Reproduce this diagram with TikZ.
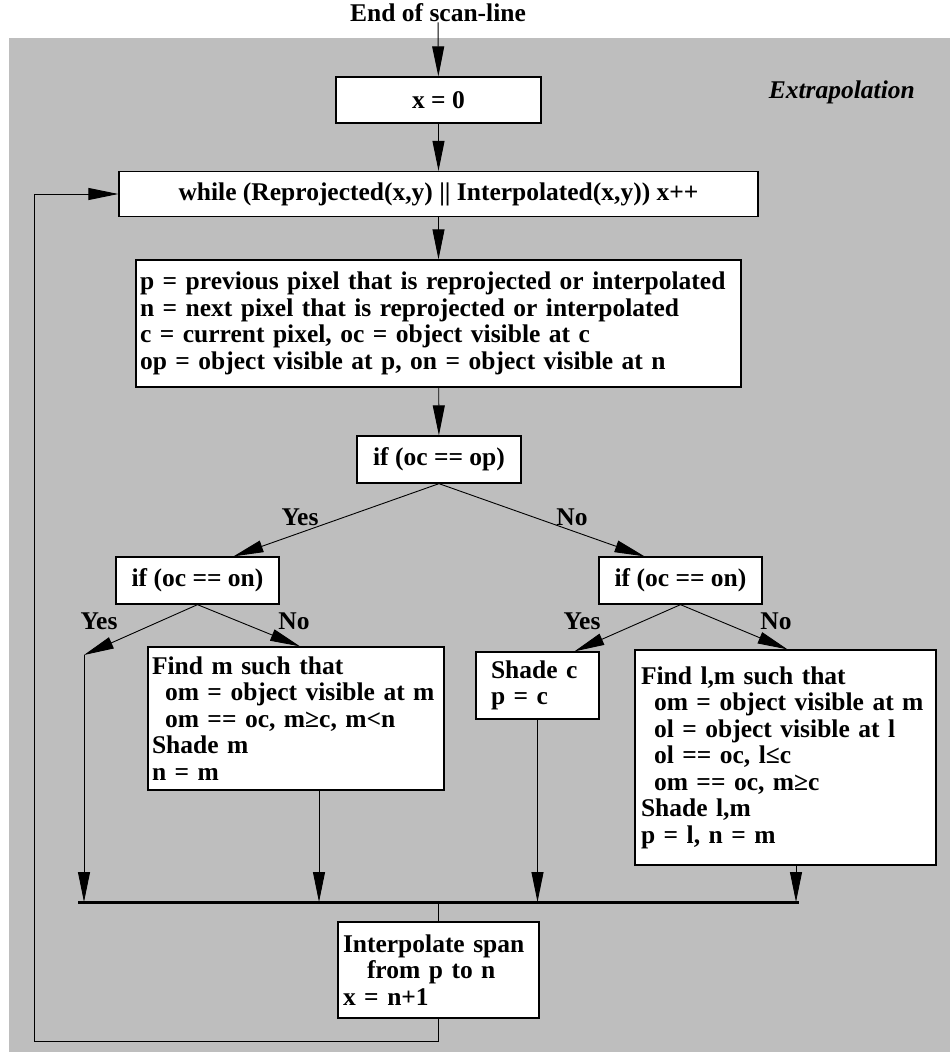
\documentclass[tikz,border=0pt]{standalone}
\usepackage{fontspec}
\setmainfont{Liberation Serif}
\usepackage{xcolor}
\usetikzlibrary{arrows.meta,positioning}
\definecolor{panel}{HTML}{BEBEBE}
\newcommand{\flowfont}{\fontsize{25.5}{26.5}\selectfont\bfseries\hyphenpenalty=10000}
\newcommand{\ind}{\hspace*{13pt}}
\tikzset{
  stepbox/.style={draw, fill=white, line width=1.3pt, inner ysep=0pt,
                  font=\flowfont},
  textbox/.style={stepbox, align=left},
  lbl/.style={font=\flowfont, inner sep=0pt},
  flow/.style={-{Triangle[length=30pt,width=12pt]}, line width=0.9pt},
  link/.style={line width=0.9pt},
  bus/.style={line width=3pt},
}

\begin{document}
\begin{tikzpicture}[x=1pt,y=-1pt]
  \useasboundingbox (0,0) rectangle (950,1052);
  \fill[panel] (9,38) rectangle (950,1052);
  % header
  \node[lbl] (title) at (438,13) {End of scan-line};
  \node[lbl, anchor=east, font=\flowfont\itshape] (extra) at (915,92) {Extrapolation};
  % init and scan
  \node[stepbox, minimum width=205pt, minimum height=46pt] (x0) at (438.5,100) {x = 0};
  \node[stepbox, minimum width=639pt, minimum height=45pt] (scan) at (438.5,194)
    {while (Reprojected(x,y) || Interpolated(x,y)) x++};
  \node[textbox, text width=597pt, inner xsep=4pt, minimum height=127pt] (pix) at (438.5,323.5)
    {p = previous pixel that is reprojected or interpolated\\
     n = next pixel that is reprojected or interpolated\\
     c = current pixel, oc = object visible at c\\
     op = object visible at p, on = object visible at n};
  % tests
  \node[stepbox, minimum width=164pt, minimum height=47pt] (ifp) at (439,459.5) {if (oc == op)};
  \node[stepbox, minimum width=163pt, minimum height=47pt] (ifl) at (197.5,580.5) {if (oc == on)};
  \node[stepbox, minimum width=163pt, minimum height=47pt] (ifr) at (680.5,580.5) {if (oc == on)};
  % actions
  \node[textbox, text width=288pt, inner xsep=4pt, minimum height=143pt] (findm) at (296,718.5)
    {Find m such that\\
     \ind om = object visible at m\\
     \ind om == oc, m≥c, m<n\\
     Shade m\\
     n = m};
  \node[textbox, text width=93pt, inner xsep=15pt, minimum height=67pt] (shc) at (537.5,685.5)
    {Shade c\\ p = c};
  \node[textbox, text width=289pt, inner xsep=6pt, minimum height=215pt] (findlm) at (785.5,757.5)
    {Find l,m such that\\
     \ind om = object visible at m\\
     \ind ol = object visible at l\\
     \ind ol == oc, l≤c\\
     \ind om == oc, m≥c\\
     Shade l,m\\
     p = l, n = m};
  \node[textbox, text width=191pt, inner xsep=5pt, minimum height=96pt] (interp) at (438.5,970)
    {Interpolate span\\
     \hspace*{24pt}from p to n\\
     x = n+1};
  % branch labels
  \node[lbl] (y1) at (300,517) {Yes};
  \node[lbl] (n1) at (572,517) {No};
  \node[lbl] (y2) at (99,621) {Yes};
  \node[lbl] (n2) at (294,621) {No};
  \node[lbl] (y3) at (582,621) {Yes};
  \node[lbl] (n3) at (776,621) {No};
  % junctions
  \coordinate (yesl) at (84,655);
  \coordinate (busL) at (78,902);
  \coordinate (busR) at (799,902);
  \coordinate (loop) at (34,1041);
  % edges
  \draw[flow] (title) -- (x0);
  \draw[flow] (x0) -- (scan);
  \draw[flow] (scan) -- (pix);
  \draw[flow] (pix) -- (ifp);
  \draw[flow] (ifp.south) -- ([xshift=36pt]ifl.north);
  \draw[flow] (ifp.south) -- ([xshift=-36pt]ifr.north);
  \draw[flow] (ifl.south) -- (yesl);
  \draw[flow] (ifl.south) -- ([xshift=4pt]findm.north);
  \draw[flow] (ifr.south) -- ([xshift=37pt]shc.north);
  \draw[flow] (ifr.south) -- ([xshift=2pt]findlm.north);
  \draw[flow] (yesl) -- (yesl |- busL);
  \draw[flow] ([xshift=23pt]findm.south) -- ([xshift=23pt]findm.south |- busL);
  \draw[flow] (shc.south) -- (shc.south |- busL);
  \draw[flow] ([xshift=10.5pt]findlm.south) -- ([xshift=10.5pt]findlm.south |- busL);
  \draw[bus] (busL) -- (busR);
  \draw[link] (interp.north |- busL) -- (interp.north);
  \draw[flow] (interp.south) |- (loop) |- (scan.west);
\end{tikzpicture}
\end{document}
